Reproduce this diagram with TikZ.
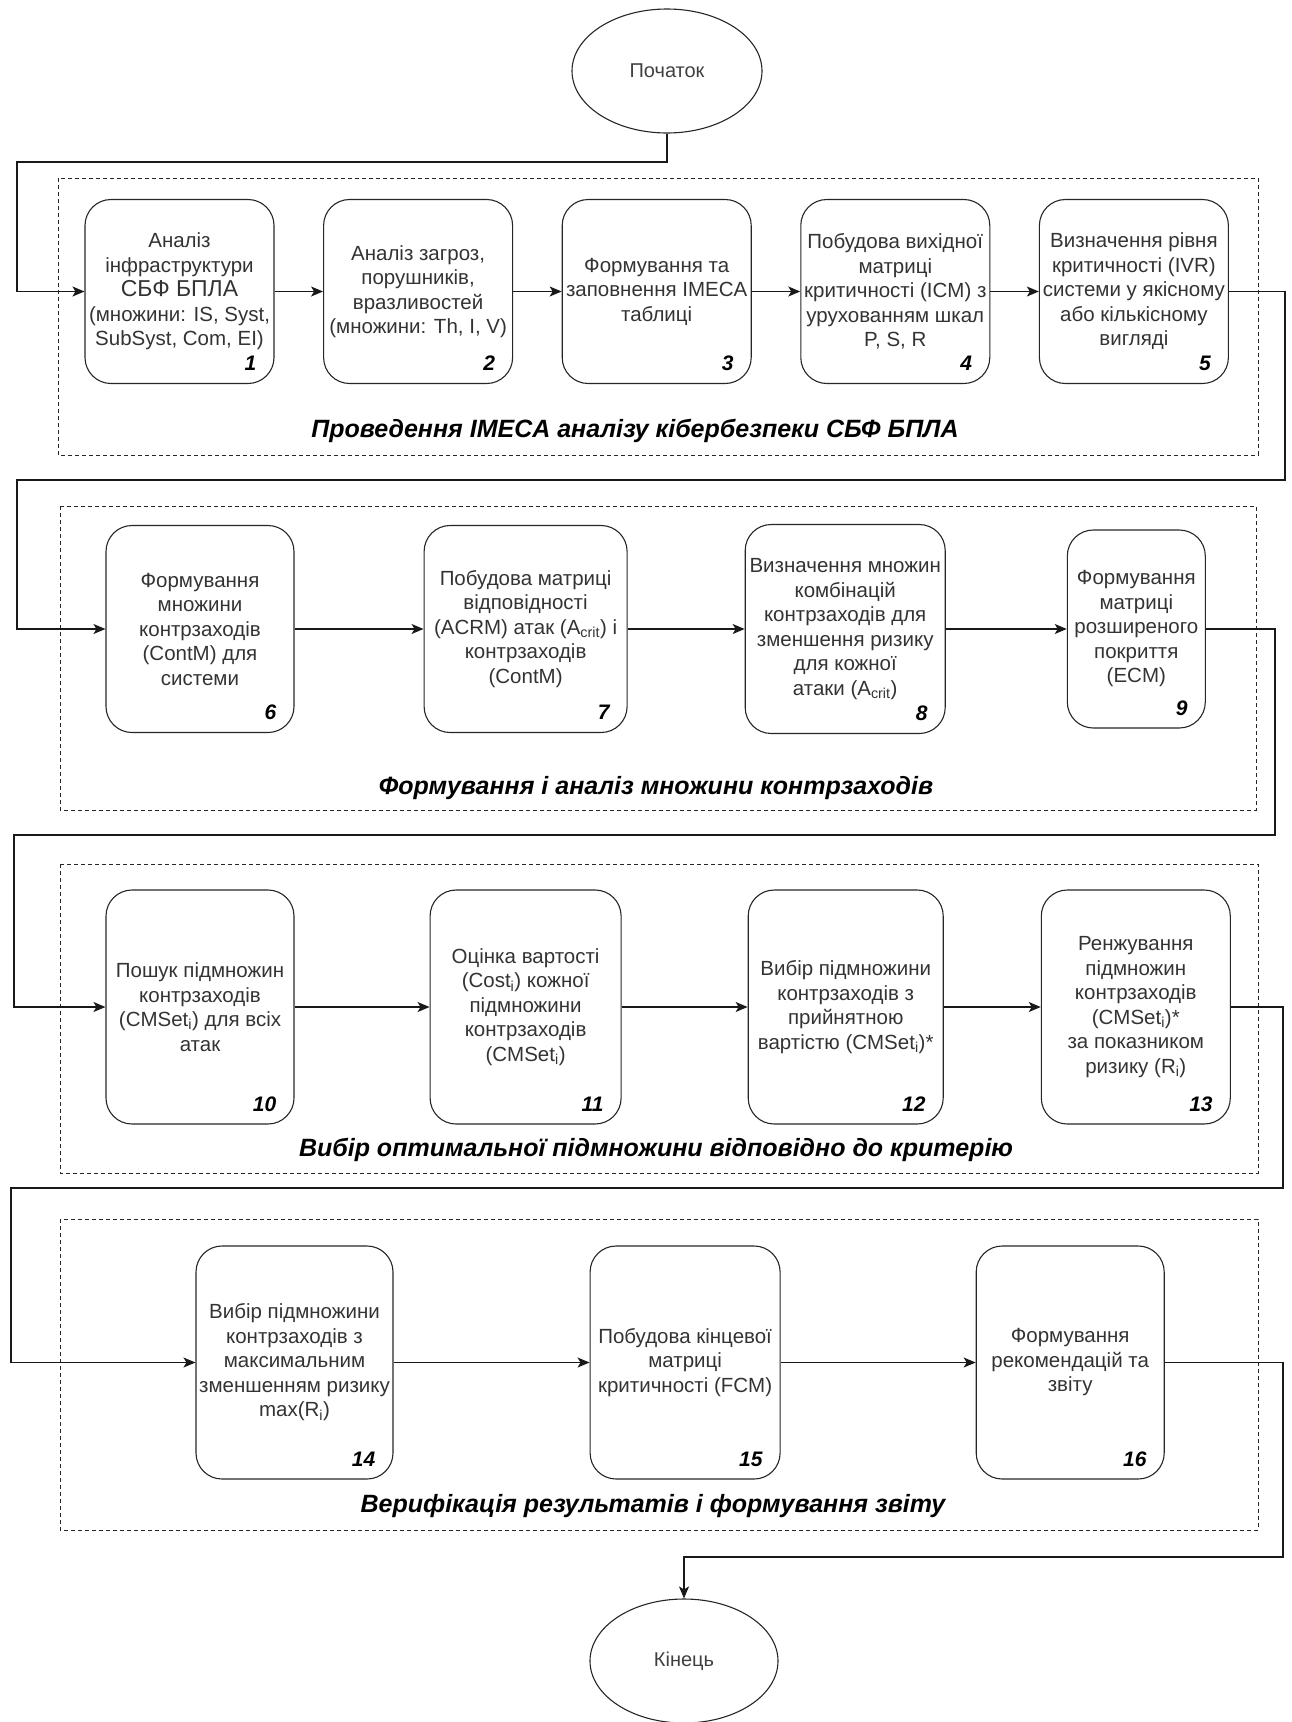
\documentclass[tikz,border=0pt]{standalone}
\usepackage{fontspec}
\setmainfont{Liberation Sans}
\usetikzlibrary{positioning, shapes.geometric, arrows.meta}

\begin{document}
\begin{tikzpicture}[x=1pt, y=-1pt, > = {Stealth[length=12pt, width=10pt, inset=3pt]}]
    \tikzset{
      stepbox/.style={draw=black!85, line width=1.1pt, rounded corners=26pt, align=center,
        inner sep=2pt, text=black!80, font=\fontsize{20.5}{24.5}\selectfont},
      num/.style={anchor=south east, inner sep=0pt, xshift=-18pt, yshift=13pt,
        text=black, font=\fontsize{21}{24}\selectfont\bfseries\itshape},
      terminal/.style={draw=black!85, line width=1.1pt, ellipse, minimum width=190pt,
        minimum height=124pt, text=black!75, font=\fontsize{20}{24}\selectfont},
      group/.style={draw=black!85, line width=1pt, dash pattern=on 4pt off 3pt},
      grouptitle/.style={font=\fontsize{25}{30}\selectfont\bfseries\itshape},
      link/.style={->, line width=1.3pt, draw=black!90},
    }
    \useasboundingbox (0,0) rectangle (1291,1722);

    % stages
    \draw[group] (58,178) rectangle (1258,455);
    \draw[group] (60,506) rectangle (1256,810);
    \draw[group] (60,864) rectangle (1258,1173);
    \draw[group] (60,1219) rectangle (1258,1530);
    \node[grouptitle] (t1) at (635,431) {Проведення IMECA аналізу кібербезпеки СБФ БПЛА};
    \node[grouptitle] (t2) at (656,788) {Формування і аналіз множини контрзаходів};
    \node[grouptitle] (t3) at (656,1150) {Вибір оптимальної підмножини відповідно до критерію};
    \node[grouptitle] (t4) at (653,1506) {Верифікація результатів і формування звіту};

    \node[terminal] (start) at (667,71) {Початок};
    \node[terminal, minimum width=188pt] (end) at (684,1661) {Кінець};

    % row 1
    \node[stepbox, minimum width=189pt, minimum height=184pt, label={[num]south east:1}] (b1) at (179.5,291.5)
      {Аналіз\\ інфраструктури\\ {\fontsize{23}{24.5}\selectfont СБФ БПЛА}\\ (множини: IS, Syst,\\ SubSyst, Com, EI)};
    \node[stepbox, minimum width=189pt, minimum height=184pt, label={[num]south east:2}, right=48.5pt of b1] (b2)
      {Аналіз загроз,\\ порушників,\\ вразливостей\\ (множини: Th, I, V)};
    \node[stepbox, minimum width=189pt, minimum height=184pt, label={[num]south east:3}, right=48.5pt of b2] (b3)
      {Формування та\\ заповнення IMECA\\ таблиці};
    \node[stepbox, minimum width=189pt, minimum height=184pt, label={[num]south east:4}, right=48.5pt of b3] (b4)
      {Побудова вихідної\\ матриці\\ критичності (ICM) з\\ урухованням шкал\\ P, S, R};
    \node[stepbox, minimum width=189pt, minimum height=184pt, label={[num]south east:5}, right=48.5pt of b4] (b5)
      {Визначення рівня\\ критичності (IVR)\\ системи у якісному\\ або кількісному\\ вигляді};

    % row 2
    \node[stepbox, minimum width=188pt, minimum height=207pt, label={[num]south east:6}] (b6) at (200,629)
      {Формування\\ множини\\ контрзаходів\\ (ContM) для\\ системи};
    \node[stepbox, minimum width=203pt, minimum height=207pt, label={[num]south east:7}, right=129pt of b6] (b7)
      {Побудова матриці\\ відповідності\\ (ACRM) атак (A\textsubscript{crit}) і\\ контрзаходів\\ (ContM)};
    \node[stepbox, minimum width=200pt, minimum height=209pt, label={[num]south east:8}, right=117pt of b7] (b8)
      {Визначення множин\\ комбінацій\\ контрзаходів для\\ зменшення ризику\\ для кожної\\ атаки (A\textsubscript{crit})};
    \node[stepbox, minimum width=138pt, minimum height=198pt, label={[num]south east:9}, right=121pt of b8] (b9)
      {Формування\\ матриці\\ розширеного\\ покриття\\ (ECM)};

    % row 3
    \node[stepbox, minimum width=188pt, minimum height=234pt, label={[num]south east:10}] (b10) at (200,1007)
      {Пошук підмножин\\ контрзаходів\\ (CMSet\textsubscript{i}) для всіх\\ атак};
    \node[stepbox, minimum width=191pt, minimum height=234pt, label={[num]south east:11}, right=135pt of b10] (b11)
      {Оцінка вартості\\ (Cost\textsubscript{i}) кожної\\ підмножини\\ контрзаходів\\ (CMSet\textsubscript{i})};
    \node[stepbox, minimum width=195pt, minimum height=234pt, label={[num]south east:12}, right=126pt of b11] (b12)
      {Вибір підмножини\\ контрзаходів з\\ прийнятною\\ вартістю (CMSet\textsubscript{i})*};
    \node[stepbox, minimum width=189pt, minimum height=234pt, label={[num]south east:13}, right=97pt of b12] (b13)
      {Ренжування\\ підмножин\\ контрзаходів\\ (CMSet\textsubscript{i})*\\ за показником\\ ризику (R\textsubscript{i})};

    % row 4
    \node[stepbox, minimum width=197pt, minimum height=233pt, label={[num]south east:14}] (b14) at (294.5,1362.5)
      {Вибір підмножини\\ контрзаходів з\\ максимальним\\ зменшенням ризику\\ max(R\textsubscript{i})};
    \node[stepbox, minimum width=190pt, minimum height=233pt, label={[num]south east:15}, right=196pt of b14] (b15)
      {Побудова кінцевої\\ матриці\\ критичності (FCM)};
    \node[stepbox, minimum width=188pt, minimum height=233pt, label={[num]south east:16}, right=195pt of b15] (b16)
      {Формування\\ рекомендацій та\\ звіту};

    % turns between rows
    \coordinate (s1) at (17,162);
    \coordinate (r1) at (1285,480);
    \coordinate (l1) at (17,480);
    \coordinate (r2) at (1275,835);
    \coordinate (l2) at (14,835);
    \coordinate (r3) at (1283,1188);
    \coordinate (l3) at (11,1188);
    \coordinate (r4) at (1283,1557);

    \draw[link] (start.south) |- (s1) |- (b1.west);
    \foreach \a/\b in {b1/b2, b2/b3, b3/b4, b4/b5, b6/b7, b7/b8, b8/b9,
                       b10/b11, b11/b12, b12/b13, b14/b15, b15/b16}
      \draw[link] (\a) -- (\b);
    \draw[link] (b5.east) -| (r1) -- (l1) |- (b6.west);
    \draw[link] (b9.east) -| (r2) -- (l2) |- (b10.west);
    \draw[link] (b13.east) -| (r3) -- (l3) |- (b14.west);
    \draw[link] (b16.east) -| (r4) -| (end.north);

  \end{tikzpicture}
\end{document}
